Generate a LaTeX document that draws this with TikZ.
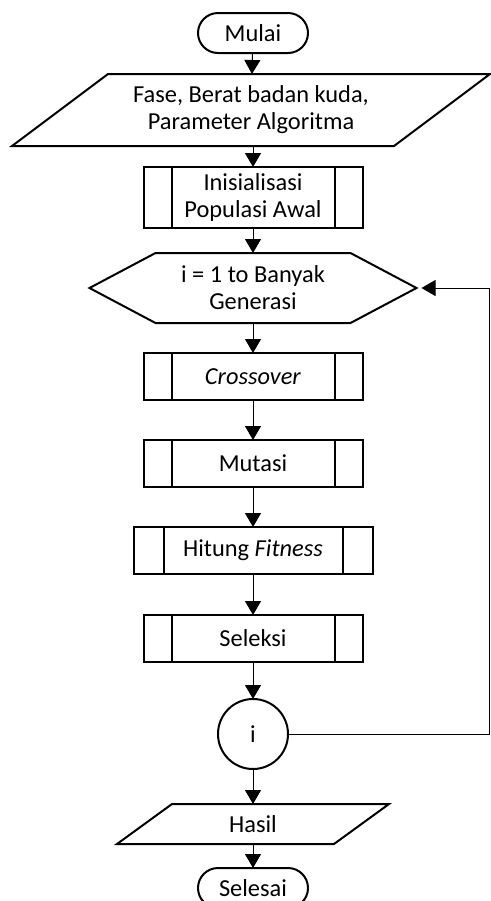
\documentclass[tikz,border=0pt]{standalone}
\usepackage{fontspec}
\setmainfont{Carlito}
\usetikzlibrary{positioning,arrows.meta}

\begin{document}
\begin{tikzpicture}[
            x=1pt, y=1pt,
            font=\fontsize{12.2}{13.5}\selectfont,
            line/.style={draw, line width=0.5pt, -{Triangle[width=8pt,length=7pt]}},
            shapeline/.style={draw, line width=1pt},
            terminal/.style={shapeline, rounded corners=10pt, minimum width=55pt, minimum height=20pt, inner sep=0pt, outer sep=0pt},
            iobox/.style={align=center, inner sep=0pt, outer sep=0pt},
            procbox/.style={shapeline, minimum width=109.5pt, minimum height=23.5pt, inner sep=0pt, outer sep=0pt, align=center,
                path picture={\draw[line width=1pt]
                    ([xshift=#1]path picture bounding box.north west) -- ([xshift=#1]path picture bounding box.south west)
                    ([xshift=-#1]path picture bounding box.north east) -- ([xshift=-#1]path picture bounding box.south east);}},
            procbox/.default=14pt,
            connector/.style={shapeline, circle, minimum size=35pt, inner sep=0pt, outer sep=0pt}
        ]
        \useasboundingbox (0,0) rectangle (245.5,-450.5);

        \node[terminal] (mulai) at (126.5,-16.5) {Mulai};
        \node[iobox, minimum width=239pt, minimum height=36pt, below=10.5pt of mulai, xshift=-1pt] (input) {Fase, Berat badan kuda,\\Parameter Algoritma};
        \node[procbox, minimum height=30.5pt, below=10.5pt of input, xshift=1pt] (init) {Inisialisasi\\Populasi Awal};
        \node[minimum width=163.5pt, minimum height=35pt, inner sep=0pt, outer sep=0pt, align=center, below=12.5pt of init] (gen) {i = 1 to Banyak\\Generasi};
        \node[procbox, below=15pt of gen] (cross) {\textit{Crossover}};
        \node[procbox, below=20pt of cross] (mutasi) {Mutasi};
        \node[procbox=15pt, minimum width=119.5pt, below=20pt of mutasi] (fitness) {Hitung \textit{Fitness}};
        \node[procbox, below=20.5pt of fitness] (seleksi) {Seleksi};
        \node[connector, below=18.5pt of seleksi] (iter) {i};
        \node[iobox, minimum width=136pt, minimum height=20pt, below=17.5pt of iter] (hasil) {Hasil};
        \node[terminal, below=12pt of hasil] (selesai) {Selesai};

        % outlines of the input/output boxes and the loop hexagon
        \draw[shapeline] (input.south west) -- ([xshift=48pt]input.north west) -- (input.north east)
            -- ([xshift=-48pt]input.south east) -- cycle;
        \draw[shapeline] (hasil.south west) -- ([xshift=27.5pt]hasil.north west) -- (hasil.north east)
            -- ([xshift=-27.5pt]hasil.south east) -- cycle;
        \draw[shapeline] (gen.west) -- ([xshift=33pt]gen.north west) -- ([xshift=-33pt]gen.north east)
            -- (gen.east) -- ([xshift=-33pt]gen.south east) -- ([xshift=33pt]gen.south west) -- cycle;

        \coordinate (back) at (244.6,0);

        \draw[line] (mulai) -- (input);
        \draw[line] (input.south -| init) -- (init);
        \draw[line] (init) -- (gen);
        \draw[line] (gen) -- (cross);
        \draw[line] (cross) -- (mutasi);
        \draw[line] (mutasi) -- (fitness);
        \draw[line] (fitness) -- (seleksi);
        \draw[line] (seleksi) -- (iter);
        \draw[line] (iter) -- (hasil);
        \draw[line] (hasil) -- (selesai);
        \draw[line, shorten >=2.5pt] (iter.east) -- (iter.east -| back) -- (gen.east -| back) -- (gen.east);
    \end{tikzpicture}
\end{document}
